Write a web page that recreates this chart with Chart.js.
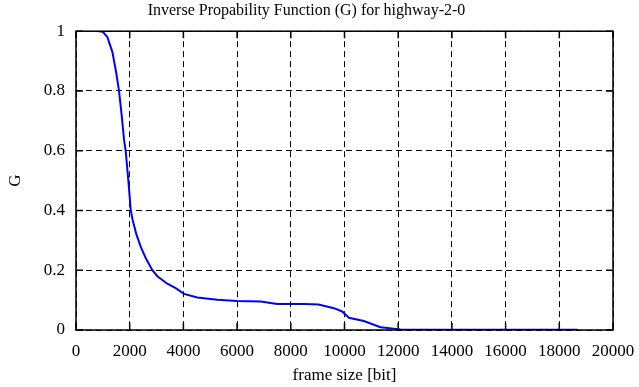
<!DOCTYPE html>
<html><head><meta charset="utf-8">
<script src="https://cdn.jsdelivr.net/npm/chart.js@4"></script>
<style>html,body{margin:0;padding:0;background:#fff}#w{width:639px;height:387px}</style>
</head><body><div id="w"><canvas id="c" width="639" height="387"></canvas></div>
<script>
const frameSize = [850,1000,1170,1356,1500,1602,1700,1789,1850,1950,2040,2110,2250,2409,2600,2844,3030,3400,3712,4022,4518,5264,6000,6874,7494,8500,9033,9603,9913,10161,10719,11340,12084,14000,18682];
const gValues   = [1.0,0.998,0.98,0.93,0.86,0.8,0.72,0.636,0.6,0.5,0.4,0.368,0.32,0.279,0.24,0.2,0.18,0.155,0.14,0.121,0.109,0.101,0.097,0.095,0.087,0.087,0.085,0.073,0.062,0.041,0.030,0.009,0.002,0.001,0.0005];
const xTicks = [0,2000,4000,6000,8000,10000,12000,14000,16000,18000,20000];
const yTicks = [0,0.2,0.4,0.6,0.8,1];

const FONT = "'Liberation Serif', 'DejaVu Serif', serif";
const boxPlugin = {
  id:'box',
  afterDraw(chart){
    const {ctx, chartArea:a, scales} = chart;
    ctx.save();
    ctx.strokeStyle='#000'; ctx.lineWidth=1.5;
    ctx.strokeRect(a.left, a.top, a.right-a.left, a.bottom-a.top);
    ctx.beginPath();
    const L=7;
    xTicks.forEach(v=>{const p=scales.x.getPixelForValue(v);
      ctx.moveTo(p,a.bottom);ctx.lineTo(p,a.bottom-L);ctx.moveTo(p,a.top);ctx.lineTo(p,a.top+L);});
    yTicks.forEach(v=>{const p=scales.y.getPixelForValue(v);
      ctx.moveTo(a.left,p);ctx.lineTo(a.left+L,p);ctx.moveTo(a.right,p);ctx.lineTo(a.right-L,p);});
    ctx.stroke();
    ctx.restore();
  }
};
new Chart(document.getElementById('c'), {
  type:'line',
  data:{datasets:[{data:frameSize.map((x,i)=>({x:x,y:gValues[i]})),borderColor:'#0000ff',borderWidth:2,pointRadius:0,fill:false,tension:0}]},
  options:{
    responsive:false, animation:false,
    layout:{padding:{left:0,right:26,top:0,bottom:0}},
    plugins:{legend:{display:false},tooltip:{enabled:false},
      title:{display:true,text:'Inverse Propability Function (G) for highway-2-0',color:'#000',font:{family:FONT,size:16,weight:'normal'},padding:{top:1,bottom:11}}},
    scales:{
      x:{type:'linear',min:0,max:20000,
        afterBuildTicks(s){s.ticks=xTicks.map(v=>({value:v}));},
        afterFit(s){s.height=57;s.paddingLeft=0;s.paddingRight=0;},
        ticks:{color:'#000',font:{family:FONT,size:17},maxRotation:0,autoSkip:false,padding:11,callback:v=>String(v)},
        grid:{color:'#000',lineWidth:1,drawTicks:false,tickLength:0},
        border:{display:false,dash:[6,4]},
        title:{display:true,text:'frame size [bit]',color:'#000',font:{family:FONT,size:17},padding:{top:2,bottom:1}}},
      y:{type:'linear',min:0,max:1,
        afterBuildTicks(s){s.ticks=yTicks.map(v=>({value:v}));},
        afterFit(s){s.width=76;s.paddingTop=0;s.paddingBottom=0;},
        ticks:{color:'#000',font:{family:FONT,size:17},padding:11,callback:v=>String(v)},
        grid:{color:'#000',lineWidth:1,drawTicks:false,tickLength:0},
        border:{display:false,dash:[6,4]},
        title:{display:true,text:'G',color:'#000',font:{family:FONT,size:17},padding:{top:5,bottom:8}}}
    }
  },
  plugins:[boxPlugin]
});
</script></body></html>
